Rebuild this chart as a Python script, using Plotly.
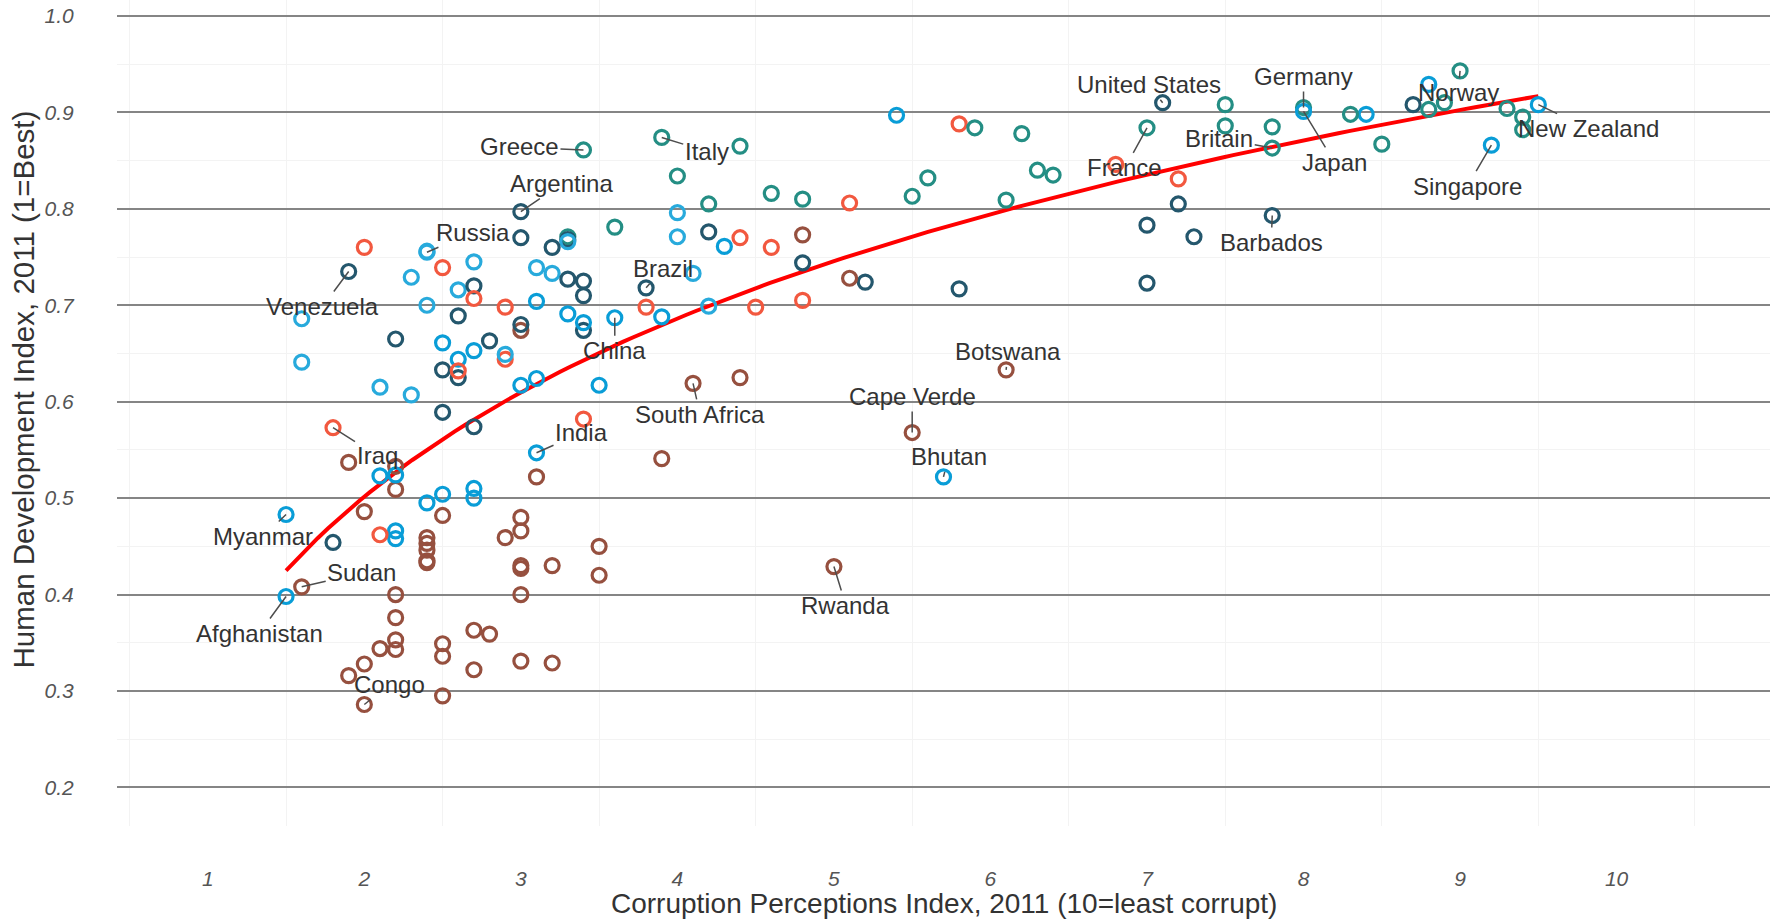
import numpy as np
import plotly.graph_objects as go

# ---------------- data ----------------
countries = ["Afghanistan","Albania","Algeria","Angola","Argentina","Armenia","Australia","Austria","Azerbaijan","Bahamas",
"Bahrain","Bangladesh","Barbados","Belarus","Belgium","Benin","Bhutan","Bolivia","Bosnia and Herzegovina","Botswana",
"Brazil","Britain","Bulgaria","Burkina Faso","Burundi","Cambodia","Cameroon","Canada","Cape Verde","Central African Republic",
"Chad","Chile","China","Colombia","Comoros","Congo","Congo Republic","Costa Rica","Côte d'Ivoire","Croatia",
"Cuba","Cyprus","Czech Republic","Denmark","Djibouti","Dominica","Dominican Republic","Ecuador","Egypt","El Salvador",
"Equatorial Guinea","Eritrea","Estonia","Ethiopia","Finland","France","Gabon","Gambia","Georgia","Germany",
"Ghana","Greece","Guatemala","Guinea","Guinea-Bissau","Guyana","Haiti","Honduras","Hong Kong","Hungary",
"Iceland","India","Indonesia","Iran","Iraq","Ireland","Israel","Italy","Jamaica","Japan",
"Jordan","Kazakhstan","Kenya","Kiribati","Korea (South)","Kuwait","Kyrgyzstan","Laos","Latvia","Lebanon",
"Lesotho","Liberia","Libya","Lithuania","Luxembourg","Madagascar","Malawi","Malaysia","Maldives","Mali",
"Malta","Mauritania","Mauritius","Mexico","Moldova","Mongolia","Montenegro","Morocco","Mozambique","Myanmar",
"Namibia","Nepal","Netherlands","New Zealand","Nicaragua","Niger","Nigeria","Norway","Oman","Pakistan",
"Panama","Papua New Guinea","Paraguay","Peru","Philippines","Poland","Portugal","Qatar","Romania","Russia",
"Rwanda","Saint Lucia","Saint Vincent and the Grenadines","Samoa","Saudi Arabia","Senegal","Serbia","Seychelles","Sierra Leone","Singapore",
"Slovakia","Slovenia","Solomon Islands","South Africa","Spain","Sri Lanka","Sudan","Suriname","Swaziland","Sweden",
"Switzerland","Syria","Tajikistan","Tanzania","Thailand","Timor-Leste","Togo","Tonga","Trinidad and Tobago","Tunisia",
"Turkey","Turkmenistan","Uganda","Ukraine","United Arab Emirates","United States","Uruguay","Uzbekistan","Vanuatu","Venezuela",
"Yemen","Zambia","Zimbabwe"]

cpi = [1.5,3.1,2.9,2.0,3.0,2.6,8.8,7.8,2.4,7.3,
5.1,2.7,7.8,2.4,7.5,3.0,5.7,2.8,3.2,6.1,
3.8,7.8,3.3,3.0,1.9,2.1,2.5,8.7,5.5,2.2,
2.0,7.2,3.6,3.4,2.4,2.0,2.2,4.8,2.2,4.0,
4.2,6.3,4.4,9.4,3.0,5.2,2.6,2.7,2.9,3.4,
1.9,2.5,6.4,2.7,9.4,7.0,3.0,3.5,4.1,8.0,
3.9,3.4,2.7,2.1,2.2,2.5,1.8,2.6,8.4,4.6,
8.3,3.1,3.0,2.7,1.8,7.5,5.8,3.9,3.3,8.0,
4.5,2.7,2.2,3.1,5.4,4.6,2.1,2.2,4.2,2.5,
3.5,3.2,2.0,4.8,8.5,3.0,3.0,4.3,2.5,2.8,
5.6,2.4,5.1,3.0,2.9,2.7,4.0,3.4,2.7,1.5,
4.4,2.2,8.9,9.5,2.5,2.5,2.4,9.0,4.8,2.5,
3.3,2.2,2.2,3.4,2.6,5.5,6.1,7.2,3.6,2.4,
5.0,7.0,5.8,3.9,4.4,2.9,3.3,4.8,2.5,9.2,
4.0,5.9,2.7,4.1,6.2,3.3,1.6,3.0,3.1,9.3,
8.8,2.6,2.3,3.0,3.4,2.4,2.4,3.1,3.2,3.8,
4.2,1.6,2.4,2.3,6.8,7.1,7.0,1.6,3.5,1.9,
2.1,3.2,2.2]

hdi = [0.398,0.739,0.698,0.486,0.797,0.716,0.929,0.885,0.700,0.771,
0.806,0.500,0.793,0.756,0.886,0.427,0.522,0.663,0.733,0.633,
0.718,0.863,0.771,0.331,0.316,0.523,0.482,0.908,0.568,0.343,
0.328,0.805,0.687,0.710,0.433,0.286,0.533,0.744,0.400,0.796,
0.776,0.840,0.865,0.895,0.430,0.724,0.689,0.720,0.644,0.674,
0.537,0.349,0.835,0.363,0.882,0.884,0.674,0.420,0.733,0.905,
0.541,0.861,0.574,0.344,0.353,0.633,0.454,0.625,0.898,0.816,
0.898,0.547,0.617,0.707,0.573,0.908,0.888,0.874,0.727,0.901,
0.698,0.745,0.509,0.624,0.897,0.760,0.615,0.524,0.805,0.739,
0.450,0.329,0.760,0.810,0.867,0.480,0.400,0.761,0.661,0.359,
0.832,0.453,0.728,0.770,0.649,0.653,0.771,0.582,0.322,0.483,
0.625,0.458,0.910,0.908,0.589,0.295,0.459,0.943,0.705,0.504,
0.768,0.466,0.665,0.725,0.644,0.813,0.809,0.831,0.781,0.755,
0.429,0.723,0.717,0.688,0.770,0.459,0.766,0.773,0.336,0.866,
0.834,0.884,0.510,0.619,0.878,0.691,0.408,0.680,0.522,0.904,
0.903,0.632,0.607,0.466,0.682,0.495,0.435,0.704,0.760,0.698,
0.699,0.686,0.446,0.729,0.846,0.910,0.783,0.641,0.617,0.735,
0.462,0.430,0.376]

region = ["AP","EE","ME","SSA","AM","EE","AP","EU","EE","AM",
"ME","AP","AM","EE","EU","SSA","AP","AM","EE","SSA",
"AM","EU","EU","SSA","SSA","AP","SSA","AM","SSA","SSA",
"SSA","AM","AP","AM","SSA","SSA","SSA","AM","SSA","EE",
"AM","EU","EU","EU","SSA","AM","AM","AM","ME","AM",
"SSA","SSA","EU","SSA","EU","EU","SSA","SSA","EE","EU",
"SSA","EU","AM","SSA","SSA","AM","AM","AM","AP","EU",
"EU","AP","AP","ME","ME","EU","ME","EU","AM","AP",
"ME","EE","SSA","AP","AP","ME","EE","AP","EU","ME",
"SSA","SSA","ME","EU","EU","SSA","SSA","AP","AP","SSA",
"EU","SSA","SSA","AM","EE","AP","EE","ME","SSA","AP",
"SSA","AP","EU","AP","AM","SSA","SSA","EU","ME","AP",
"AM","AP","AM","AM","AP","EU","EU","ME","EU","EE",
"SSA","AM","AM","AP","ME","SSA","EE","SSA","SSA","AP",
"EU","EU","AP","SSA","EU","AP","SSA","AM","SSA","EU",
"EU","ME","EE","SSA","AP","AP","SSA","AP","AM","ME",
"EE","EE","SSA","EE","ME","AM","AM","EE","AP","AM",
"ME","SSA","SSA"]

x_ticks = [1, 2, 3, 4, 5, 6, 7, 8, 9, 10]
y_ticks = [0.2, 0.3, 0.4, 0.5, 0.6, 0.7, 0.8, 0.9, 1.0]
y_ticklabels = ["0.2", "0.3", "0.4", "0.5", "0.6", "0.7", "0.8", "0.9", "1.0"]

labelled = ["Russia","Venezuela","Iraq","Myanmar","Sudan","Afghanistan","Congo","Greece","Argentina","Brazil",
            "India","Italy","China","South Africa","Botswana","Cape Verde","Bhutan","Rwanda","France",
            "United States","Germany","Britain","Barbados","Norway","Japan","New Zealand","Singapore"]

x_title = "Corruption Perceptions Index, 2011 (10=least corrupt)"
y_title = "Human Development Index, 2011 (1=Best)"

# ---------------- styles ----------------
region_colors = {"AM": "#24576D", "AP": "#099DD7", "EE": "#28AADC",
                 "EU": "#248E84", "ME": "#F2583F", "SSA": "#96503F"}
# label text offsets in pixels (text centre relative to point)
label_offsets = {
    "Russia": (46, -20), "Venezuela": (-26, 35), "Iraq": (44, 28), "Myanmar": (-23, 22),
    "Sudan": (60, -14), "Afghanistan": (-27, 37), "Congo": (25, -20), "Greece": (-64, -3),
    "Argentina": (41, -28), "Brazil": (17, -19), "India": (45, -20), "Italy": (45, 14),
    "China": (0, 33), "South Africa": (7, 31), "Botswana": (2, -18), "Cape Verde": (0, -36),
    "Bhutan": (5, -20), "Rwanda": (12, 39), "France": (-22, 40), "United States": (-14, -18),
    "Germany": (0, -31), "Britain": (-53, -10), "Barbados": (-1, 27), "Norway": (-2, 22),
    "Japan": (31, 51), "New Zealand": (50, 24), "Singapore": (-24, 41),
}

FONT = "Liberation Sans, Arial, Helvetica, sans-serif"

# ---------------- figure ----------------
cpi_arr = np.array(cpi)
hdi_arr = np.array(hdi)
b, a = np.polyfit(np.log(cpi_arr), hdi_arr, 1)
xs = np.linspace(cpi_arr.min(), cpi_arr.max(), 120)
ys = a + b * np.log(xs)

fig = go.Figure()
fig.add_trace(go.Scatter(x=xs, y=ys, mode="lines",
                         line=dict(color="#FF0000", width=4), hoverinfo="skip"))
fig.add_trace(go.Scatter(
    x=cpi, y=hdi, mode="markers", text=countries,
    marker=dict(symbol="circle-open", size=14,
                color=[region_colors[r] for r in region],
                line=dict(width=3.2)),
))

for name in labelled:
    i = countries.index(name)
    dx, dy = label_offsets[name]
    fig.add_annotation(x=cpi[i], y=hdi[i], text=name, showarrow=True,
                       ax=dx, ay=dy, arrowhead=0, arrowwidth=1.5, arrowcolor="#4d4d4d",
                       standoff=0, font=dict(family=FONT, size=24, color="#333333"))

fig.add_annotation(xref="paper", yref="paper", x=0.5, y=-0.0944, text=x_title, showarrow=False,
                   xanchor="center", yanchor="middle", font=dict(family=FONT, size=28, color="#333333"))
fig.add_annotation(xref="paper", yref="paper", x=-0.0565, y=0.528, text=y_title, showarrow=False,
                   textangle=-90, xanchor="center", yanchor="middle",
                   font=dict(family=FONT, size=29.5, color="#333333"))

fig.update_layout(
    width=1779, height=919,
    margin=dict(l=117, r=9, t=0, b=93),
    paper_bgcolor="white", plot_bgcolor="white",
    showlegend=False,
    font=dict(family=FONT),
    xaxis=dict(range=[0.42, 10.98], tickvals=x_ticks, showgrid=False, zeroline=False, showline=False,
               ticks="outside", ticklen=34, tickcolor="rgba(0,0,0,0)",
               tickfont=dict(family=FONT, size=21, color="#555555", style="italic"),
               minor=dict(tickvals=[v + 0.5 for v in range(0, 11)], showgrid=True,
                          gridcolor="#f3f3f3", gridwidth=1.2, ticks="")),
    yaxis=dict(range=[0.16, 1.0165], tickvals=y_ticks, ticktext=y_ticklabels, showgrid=True,
               gridcolor="#858585", gridwidth=2.2, zeroline=False, showline=False,
               ticks="outside", ticklen=38, tickcolor="rgba(0,0,0,0)",
               tickfont=dict(family=FONT, size=21, color="#555555", style="italic"),
               minor=dict(tickvals=[round(0.25 + 0.1 * k, 2) for k in range(8)], showgrid=True,
                          gridcolor="#f3f3f3", gridwidth=1.2, ticks="")),
)

fig.write_html("out.html", config={"displayModeBar": False},
               post_script="document.body.style.margin='0';document.body.style.overflow='hidden';")
